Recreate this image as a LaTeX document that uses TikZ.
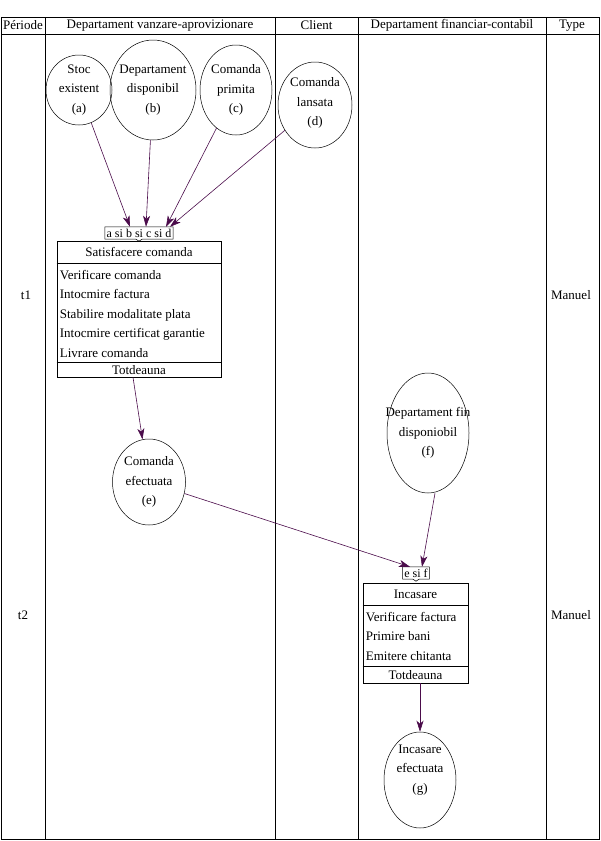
\documentclass[tikz,border=0pt]{standalone}
\usepackage{fontspec}
\setmainfont{Liberation Serif}
\usepackage{tikz}
\usepackage{xcolor}
\usetikzlibrary{positioning}
\usetikzlibrary{calc}
\usetikzlibrary{shapes.geometric}
\usetikzlibrary{arrows.meta}
\definecolor{flowpurple}{RGB}{75,12,75}

\begin{document}
\begin{tikzpicture}[x=1pt,y=-1pt,
  every node/.style={font=\fontsize{13}{19.5}\selectfont,inner sep=1pt},
  state/.style={draw,ellipse,line width=0.5pt},
  txt/.style={align=center},
  opbox/.style={draw,line width=0.6pt},
  syncbox/.style={font=\fontsize{12}{12}\selectfont,inner sep=1.5pt,minimum height=12pt},
  arr/.style={draw=flowpurple,line width=0.6pt,-{Stealth[length=11pt,width=7pt,inset=3pt]}},
  grid/.style={line width=0.8pt}]
\useasboundingbox (0,0) rectangle (600,841);

% table
\draw [grid] (1,17) rectangle (599,839);
\draw [grid] (1,34) -- (599,34);
\draw [grid] (45,17) -- (45,839);
\draw [grid] (275,17) -- (275,839);
\draw [grid] (358,17) -- (358,839);
\draw [grid] (546,17) -- (546,839);

\node (hper) at (23,25.5) {Période};
\node (hvanz) at (160,25.5) {Departament vanzare-aprovizionare};
\node (hcli) at (316.5,25.5) {Client};
\node (hfin) at (452,25.5) {Departament financiar-contabil};
\node (htype) at (572,25.5) {Type};

\node (tone) at (26,295) {t1};
\node (typeone) at (571,295) {Manuel};
\node (ttwo) at (23,615) {t2};
\node (typetwo) at (571,615) {Manuel};

% events
\node [state,minimum width=66pt,minimum height=70pt,label={[txt]center:Stoc\\existent\\(a)}] (a) at (79,90) {};
\node [state,minimum width=86pt,minimum height=100pt,label={[txt]center:Departament\\disponibil\\(b)}] (b) at (153,90) {};
\node [state,minimum width=72pt,minimum height=90pt,label={[txt]center:Comanda\\primita\\(c)}] (c) at (236,90) {};
\node [state,minimum width=74pt,minimum height=86pt,label={[txt,yshift=2pt]center:Comanda\\lansata\\(d)}] (d) at (315,105) {};
\node [state,minimum width=73pt,minimum height=86pt,label={[txt]center:Comanda\\efectuata\\(e)}] (e) at (149,482) {};
\node [state,minimum width=82pt,minimum height=120pt,label={[txt]center:Departament fin\\disponiobil\\(f)}] (f) at (428,433) {};
\node [state,minimum width=72pt,minimum height=96pt,label={[txt,yshift=10pt]center:Incasare\\efectuata\\(g)}] (g) at (420,780) {};

% synchronisation a si b si c si d
\node [syncbox] (abcd) at (139,233) {a si b si c si d};
\draw [line width=0.5pt] (abcd.north west) -- (abcd.north east) -- (abcd.south east)
  -- ([xshift=3pt]abcd.south) -- ([yshift=-2pt]abcd.south) -- ([xshift=-3pt]abcd.south)
  -- (abcd.south west) -- cycle;

% operation Satisfacere comanda
\node [opbox,minimum width=164pt,minimum height=136pt] (sat) at (139,309) {};
\draw [line width=0.6pt] ($(sat.north west)+(0,23)$) -- ($(sat.north east)+(0,23)$);
\draw [line width=0.6pt] ($(sat.south west)+(0,-15)$) -- ($(sat.south east)+(0,-15)$);
\node (sattitle) at ($(sat.north)+(0,11.5)$) {Satisfacere comanda};
\node [anchor=north west,align=left] (satlist) at ($(sat.north west)+(2,28)$)
  {Verificare comanda\\Intocmire factura\\Stabilire modalitate plata\\Intocmire certificat garantie\\Livrare comanda};
\node (satfreq) at ($(sat.south)+(0,-7.5)$) {Totdeauna};

% synchronisation e si f
\node [syncbox] (esf) at (416,573) {e si f};
\draw [line width=0.5pt] (esf.north west) -- (esf.north east) -- (esf.south east)
  -- ([xshift=3pt]esf.south) -- ([yshift=-2pt]esf.south) -- ([xshift=-3pt]esf.south)
  -- (esf.south west) -- cycle;

% operation Incasare
\node [opbox,minimum width=105pt,minimum height=100pt] (inc) at (415.5,633) {};
\draw [line width=0.6pt] ($(inc.north west)+(0,23)$) -- ($(inc.north east)+(0,23)$);
\draw [line width=0.6pt] ($(inc.south west)+(0,-17)$) -- ($(inc.south east)+(0,-17)$);
\node (inctitle) at ($(inc.north)+(0,11.5)$) {Incasare};
\node [anchor=north west,align=left] (inclist) at ($(inc.north west)+(2,28)$)
  {Verificare factura\\Primire bani\\Emitere chitanta};
\node (incfreq) at ($(inc.south)+(0,-8.5)$) {Totdeauna};

% arrows
\draw [arr] (a) -- ([xshift=-9pt]abcd.north);
\draw [arr] (b) -- ([xshift=7pt]abcd.north);
\draw [arr] (c) -- ([xshift=27pt]abcd.north);
\draw [arr] (d) -- ([xshift=31pt]abcd.north);
\draw [arr] ([xshift=-6pt]sat.south) -- (e);
\draw [arr] (e) -- ([xshift=-6pt]esf.north);
\draw [arr] ([xshift=7pt]f.south) -- ([xshift=6pt]esf.north);
\draw [arr] (inc.south -| g) -- (g);
\end{tikzpicture}
\end{document}
